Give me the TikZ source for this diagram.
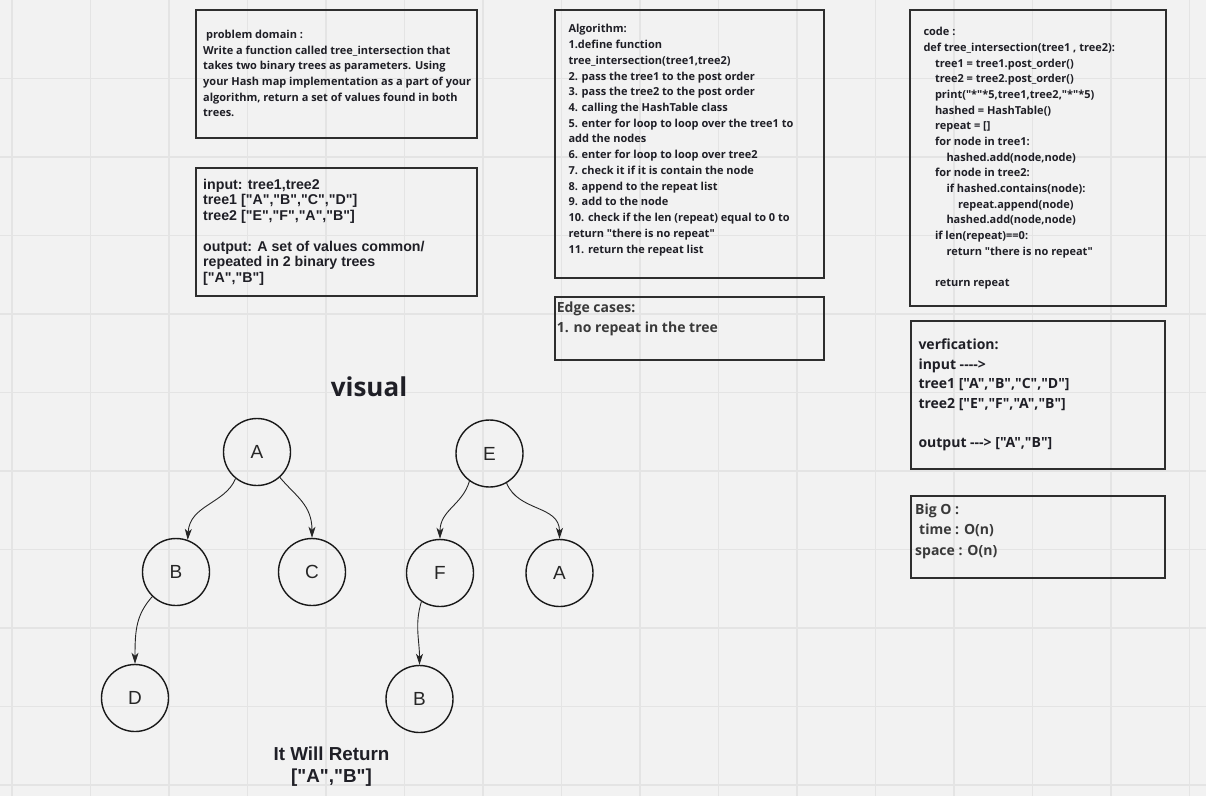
\documentclass[tikz,border=0pt]{standalone}
\usepackage{fontspec}
\setmainfont{Open Sans}[Ligatures=TeXOff]
\newfontfamily\arialf{Liberation Sans}[Ligatures=TeXOff]
\usetikzlibrary{arrows.meta}
\definecolor{bg}{HTML}{F2F2F2}
\definecolor{gridc}{HTML}{E4E4E4}
\definecolor{boxc}{HTML}{2E2E2E}
\definecolor{txt}{HTML}{1F1F26}
\definecolor{txtg}{HTML}{3A3A3A}
\begin{document}
\begin{tikzpicture}[x=1pt,y=-1pt,
 gridline/.style={draw=gridc,line width=1.2pt},
 panel/.style={draw=boxc,line width=1.6pt},
 body/.style={anchor=base west,inner sep=0pt,align=left,text=txt,font=\fontsize{11}{15.72}\selectfont\bfseries},
 bigbody/.style={anchor=base west,inner sep=0pt,align=left,text=txt,font=\fontsize{14}{19.5}\selectfont\bfseries},
 treenode/.style={circle,draw=black!90,line width=1.4pt,minimum size=67pt,inner sep=0pt,font=\arialf\fontsize{19}{19}\selectfont,text=black!85},
 edge/.style={draw=black!85,line width=0.9pt,-{Stealth[length=11pt,width=7pt,inset=3pt]}},
]
\useasboundingbox (0,0) rectangle (1206,796);
\fill[bg] (0,0) rectangle (1206,796);
\foreach \i in {0,...,15} \draw[gridline] ({12+78.5*\i},0) -- ({12+78.5*\i},796);
\foreach \j in {1,...,10} \draw[gridline] (0,{78.5*\j}) -- (1206,{78.5*\j});

% panels
\draw[panel] (196,10) rectangle (477,138);
\draw[panel] (196,168) rectangle (477,296);
\draw[panel] (555,10) rectangle (824,278);
\draw[panel] (555,297) rectangle (824,360);
\draw[panel] (910,10) rectangle (1166,306);
\draw[panel] (911,321) rectangle (1165,469);
\draw[panel] (911,496) rectangle (1165,578);

% base anchor = baseline of the last line
\node[body] (pd) at (203,116.9) {\hspace*{3pt}problem domain :\\Write a function called tree\_intersection that\\takes two binary trees as parameters. Using\\your Hash map implementation as a part of your\\algorithm, return a set of values found in both\\trees.};

\node[anchor=base west,inner sep=0pt,align=left,text=txt,font=\arialf\bfseries\fontsize{14.2}{15.5}\selectfont] (io) at (203,282) {input: tree1,tree2\\tree1 ["A","B","C","D"]\\tree2 ["E","F","A","B"]\\[15.5pt]output: A set of values common/\\repeated in 2 binary trees\\{[}"A","B"]};

\node[body] (alg) at (568.3,253) {Algorithm:\\1.define function\\tree\_intersection(tree1,tree2)\\2. pass the tree1 to the post order\\3. pass the tree2 to the post order\\4. calling the HashTable class\\5. enter for loop to loop over the tree1 to\\add the nodes\\6. enter for loop to loop over tree2\\7. check it if it is contain the node\\8. append to the repeat list\\9. add to the node\\10. check if the len (repeat) equal to 0 to\\return "there is no repeat"\\11. return the repeat list};

\node[bigbody,text=txtg,font=\fontsize{14}{20}\selectfont\bfseries] (edge) at (556.7,332.3) {Edge cases:\\1. no repeat in the tree};

\node[body,font=\fontsize{11}{15.69}\selectfont\bfseries] (code) at (923.3,286.7) {code :\\def tree\_intersection(tree1 , tree2):\\
\hspace*{11.5pt}tree1 = tree1.post\_order()\\
\hspace*{11.5pt}tree2 = tree2.post\_order()\\
\hspace*{11.5pt}print("*"*5,tree1,tree2,"*"*5)\\
\hspace*{11.5pt}hashed = HashTable()\\
\hspace*{11.5pt}repeat = {[]}\\
\hspace*{11.5pt}for node in tree1:\\
\hspace*{23pt}hashed.add(node,node)\\
\hspace*{11.5pt}for node in tree2:\\
\hspace*{23pt}if hashed.contains(node):\\
\hspace*{34.5pt}repeat.append(node)\\
\hspace*{23pt}hashed.add(node,node)\\
\hspace*{11.5pt}if len(repeat)==0:\\
\hspace*{23pt}return "there is no repeat"\\[15.69pt]
\hspace*{11.5pt}return repeat};

\node[bigbody] (ver) at (918.3,447.3) {verfication:\\input ---->\\tree1 ["A","B","C","D"]\\tree2 ["E","F","A","B"]\\[19.5pt]output ---> ["A","B"]};

\node[bigbody,text=txtg,font=\fontsize{14}{20.5}\selectfont\bfseries] (bigo) at (915,555) {Big O :\\\hspace*{4pt}time : O(n)\\space : O(n)};

\node[anchor=base,inner sep=0pt,text=txt,font=\fontsize{26}{26}\selectfont\bfseries] (vis) at (369,396.7) {visual};

\node[anchor=base,inner sep=0pt,align=center,text=txt,font=\arialf\bfseries\fontsize{18.8}{22.5}\selectfont] (ret) at (331.5,782.5) {It Will Return\\{[}"A","B"]};

% trees
\node[treenode] (nA) at (257,452) {A};
\node[treenode] (nB) at (176,572) {B};
\node[treenode] (nC) at (312,572) {C};
\node[treenode] (nD) at (135,698) {D};
\node[treenode] (nE) at (489.5,453.5) {E};
\node[treenode] (nF) at (440,573) {F};
\node[treenode] (nA2) at (559.5,573) {A};
\node[treenode] (nB2) at (419.5,699) {B};

\draw[edge] (nA.231) .. controls +(-10,25) and +(2,-35) .. (nB.70);
\draw[edge] (nA.312) .. controls +(16,19) and +(0,-33) .. (nC.90);
\draw[edge] (nB.226) .. controls +(-16,18) and +(0,-34) .. (nD.90);
\draw[edge] (nE.234) .. controls +(-7,24) and +(0,-29) .. (nF.90);
\draw[edge] (nE.300) .. controls +(12,29) and +(0,-34) .. (nA2.90);
\draw[edge] (nF.237) .. controls +(-7,23) and +(0,-25) .. (nB2.90);
\end{tikzpicture}
\end{document}
